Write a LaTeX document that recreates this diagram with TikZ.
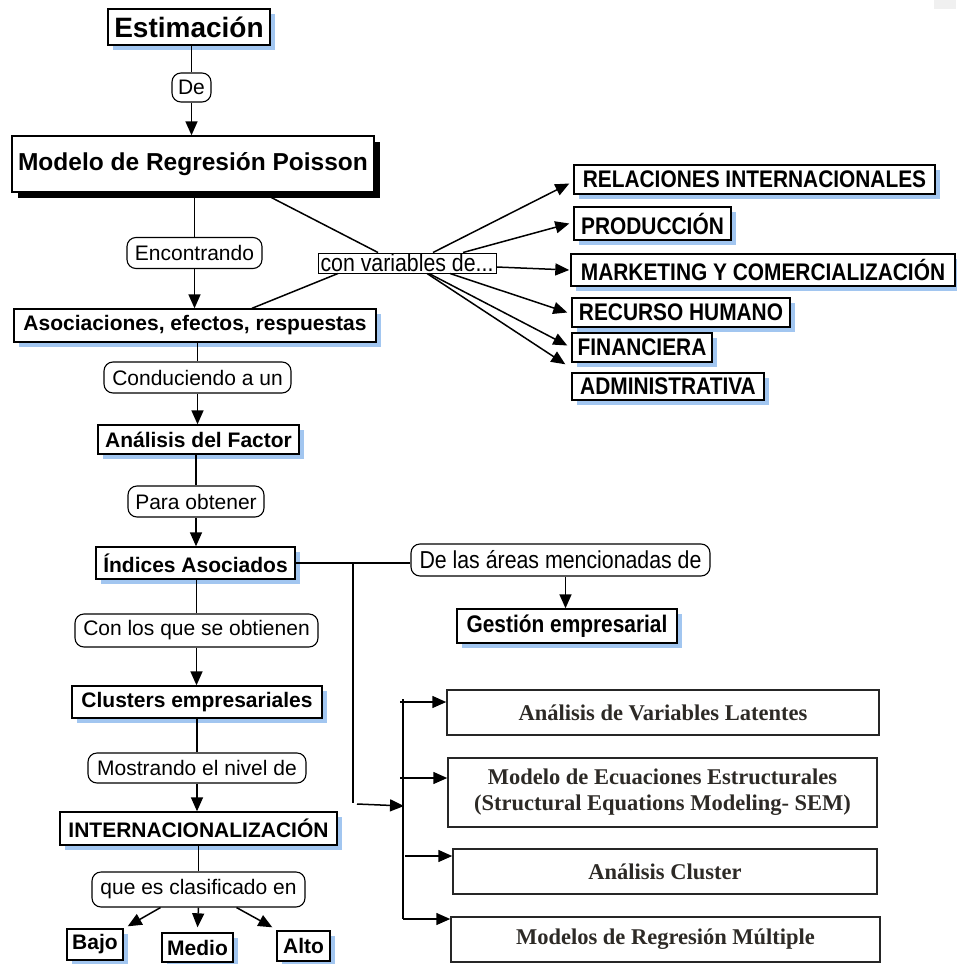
\documentclass[tikz,border=0pt]{standalone}
\usepackage{fontspec}
\setmainfont{Liberation Sans}
\newfontfamily\narrowfont[FakeStretch=0.87]{Liberation Sans}
\newfontfamily\seriffont{Liberation Serif}
\usetikzlibrary{arrows.meta,shadows}
\definecolor{sblue}{RGB}{162,198,240}
\definecolor{serifink}{RGB}{45,42,38}
\tikzset{
  concept/.style={draw=black,line width=1.4pt,fill=white,inner sep=0pt,
    font=\fontsize{21pt}{24pt}\selectfont\bfseries},
  bshadow/.style={drop shadow={shadow xshift=5pt,shadow yshift=-5pt,fill=sblue,draw=none,opacity=1}},
  kshadow/.style={drop shadow={shadow xshift=6pt,shadow yshift=-6pt,fill=black,draw=none,opacity=1}},
  narrowconcept/.style={concept,font=\fontsize{24pt}{26pt}\selectfont\narrowfont\bfseries},
  linkphrase/.style={draw=black,line width=1.1pt,fill=white,rounded corners=9pt,inner sep=0pt,
    font=\fontsize{21pt}{24pt}\selectfont},
  serifbox/.style={draw=black!85,line width=1.5pt,fill=white,inner sep=0pt,align=center,
    text=serifink,font=\fontsize{22.5pt}{26pt}\selectfont\seriffont\bfseries},
  link/.style={draw=black,line width=1.5pt},
  arr/.style={link,-{Triangle[length=14pt,width=12pt]}}
}
\begin{document}
\begin{tikzpicture}[x=1pt,y=-1pt]
\useasboundingbox (0,0) rectangle (956,964);
\fill[black!6] (934,0) rectangle (956,9);

% main column
\node[concept,bshadow,minimum width=162pt,minimum height=36pt,font=\fontsize{28pt}{30pt}\selectfont\bfseries] (est) at (189,27) {Estimación};
\node[linkphrase,minimum width=39pt,minimum height=29pt] (de) at (191.5,87.5) {De};
\node[concept,kshadow,minimum width=362pt,minimum height=56pt,font=\fontsize{24.5pt}{27pt}\selectfont\bfseries] (modelo) at (193,164) {Modelo de Regresión Poisson};
\node[linkphrase,minimum width=135pt,minimum height=31pt] (enc) at (194.5,253) {Encontrando};
\node[concept,bshadow,minimum width=362pt,minimum height=33pt] (asoc) at (195,325.5) {Asociaciones, efectos, respuestas};
\node[linkphrase,minimum width=187pt,minimum height=31pt] (cond) at (197.5,377.5) {Conduciendo a un};
\node[concept,bshadow,minimum width=201pt,minimum height=29pt] (afac) at (198.5,439.5) {Análisis del Factor};
\node[linkphrase,minimum width=136pt,minimum height=31pt] (para) at (196,501.5) {Para obtener};
\node[concept,bshadow,minimum width=199pt,minimum height=32pt] (ind) at (195.5,563) {Índices Asociados};
\node[linkphrase,minimum width=243pt,minimum height=33pt] (conlos) at (196.5,630.5) {Con los que se obtienen};
\node[concept,bshadow,minimum width=250pt,minimum height=32pt] (clus) at (197,702) {Clusters empresariales};
\node[linkphrase,minimum width=218pt,minimum height=30pt] (most) at (197,768) {Mostrando el nivel de};
\node[concept,bshadow,minimum width=277pt,minimum height=33pt] (intl) at (198.5,828.5) {INTERNACIONALIZACIÓN};
\node[linkphrase,minimum width=213pt,minimum height=35pt] (clasif) at (198.5,889.5) {que es clasificado en};
\node[concept,bshadow,minimum width=56pt,minimum height=31pt] (bajo) at (95,944.5) {Bajo};
\node[concept,bshadow,minimum width=71pt,minimum height=29pt] (medio) at (197.5,947.5) {Medio};
\node[concept,bshadow,minimum width=53pt,minimum height=30pt] (alto) at (303.5,946) {Alto};

% variables branch
\node[draw=black,line width=1pt,fill=white,inner sep=0pt,minimum width=178pt,minimum height=20pt,
  font=\fontsize{24.5pt}{25pt}\selectfont\narrowfont] (cv) at (407,263) {con variables de...};
\node[narrowconcept,bshadow,minimum width=361pt,minimum height=29pt] (rel) at (754.5,179.5) {RELACIONES INTERNACIONALES};
\node[narrowconcept,bshadow,minimum width=157pt,minimum height=33pt] (prod) at (652.5,223.5) {PRODUCCIÓN};
\node[narrowconcept,bshadow,minimum width=384pt,minimum height=32pt] (mkt) at (763,270) {MARKETING Y COMERCIALIZACIÓN};
\node[narrowconcept,bshadow,minimum width=218pt,minimum height=29pt] (rh) at (681,312.5) {RECURSO HUMANO};
\node[narrowconcept,bshadow,minimum width=140pt,minimum height=29pt] (fin) at (642,347.5) {FINANCIERA};
\node[narrowconcept,bshadow,minimum width=192pt,minimum height=27pt] (adm) at (668,386.5) {ADMINISTRATIVA};

% areas branch
\node[linkphrase,minimum width=299pt,minimum height=32pt,font=\fontsize{24.5pt}{26pt}\selectfont\narrowfont] (areas) at (560.5,560) {De las áreas mencionadas de};
\node[narrowconcept,bshadow,minimum width=220pt,minimum height=34pt] (gest) at (567,626) {Gestión empresarial};

% methods
\node[serifbox,minimum width=432pt,minimum height=45pt] (lat) at (663,712.5) {Análisis de Variables Latentes};
\node[serifbox,minimum width=429pt,minimum height=69pt] (sem) at (662.5,792.5) {Modelo de Ecuaciones Estructurales\\(Structural Equations Modeling- SEM)};
\node[serifbox,minimum width=424pt,minimum height=45pt] (clan) at (665,871.5) {Análisis Cluster};
\node[serifbox,minimum width=429pt,minimum height=45pt] (mrm) at (665.5,939.5) {Modelos de Regresión Múltiple};

% main column connectors
\draw[link] (est.south -| de.north) -- (de.north);
\draw[arr] (de.south) -- (de.south |- modelo.north);
\draw[link] (enc.north |- modelo.south) -- (enc.north);
\draw[arr] (enc.south) -- (enc.south |- asoc.north);
\draw[link] (cond.north |- asoc.south) -- (cond.north);
\draw[arr] (cond.south) -- (cond.south |- afac.north);
\draw[link] (para.north |- afac.south) -- (para.north);
\draw[arr] (para.south) -- (para.south |- ind.north);
\draw[link] (conlos.north |- ind.south) -- (conlos.north);
\draw[arr] (conlos.south) -- (conlos.south |- clus.north);
\draw[link] (most.north |- clus.south) -- (most.north);
\draw[arr] (most.south) -- (most.south |- intl.north);
\draw[link] (clasif.north |- intl.south) -- (clasif.north);
\draw[arr] ([xshift=-38pt]clasif.south) -- ([xshift=4pt,yshift=2pt]bajo.north east);
\draw[arr] (clasif.south) -- ([yshift=5pt]medio.north);
\draw[arr] ([xshift=38pt]clasif.south) -- ([xshift=-4pt,yshift=3pt]alto.north west);

% variables connectors
\draw[link] ([xshift=69pt]modelo.south) -- ([xshift=-29pt]cv.north);
\draw[link] ([xshift=-69pt]cv.south) -- ([xshift=57pt]asoc.north);
\draw[arr] ([xshift=26pt]cv.north) -- ([xshift=-4pt,yshift=-4pt]rel.west);
\draw[arr] ([xshift=56pt]cv.north) -- ([xshift=-4pt]prod.west);
\draw[arr] ([yshift=-4pt]cv.east) -- ([xshift=-1pt]mkt.west);
\draw[arr] ([xshift=43pt]cv.south) -- ([xshift=-4pt]rh.west);
\draw[arr] ([xshift=22pt]cv.south) -- ([xshift=-4pt,yshift=2pt]fin.west);
\draw[arr] ([xshift=20pt]cv.south) -- ([xshift=-6pt,yshift=8pt]adm.north west);

% areas connectors
\draw[link] (ind.east) -- (ind.east -| areas.west);
\draw[arr] ([xshift=5pt]areas.south) -- ([xshift=5pt]areas.south |- gest.north);

% methods connectors
\coordinate (bsplit) at (353,563);
\coordinate (bend) at (353,803);
\coordinate (bfrom) at (357,804);
\coordinate (rtop) at (403,699);
\coordinate (rbot) at (403,919);
\draw[link] (bsplit) -- (bend);
\draw[arr] (bfrom) -- (404,806);
\draw[link] (rtop) -- (rbot);
\coordinate (t1) at (400,702);
\coordinate (t2) at (400,778);
\coordinate (t3) at (405,856);
\coordinate (t4) at (403,919);
\draw[arr] (t1) -- (t1 -| lat.west);
\draw[arr] (t2) -- (t2 -| sem.west);
\draw[arr] (t3) -- (t3 -| clan.west);
\draw[arr] (t4) -- (t4 -| mrm.west);
\end{tikzpicture}
\end{document}
